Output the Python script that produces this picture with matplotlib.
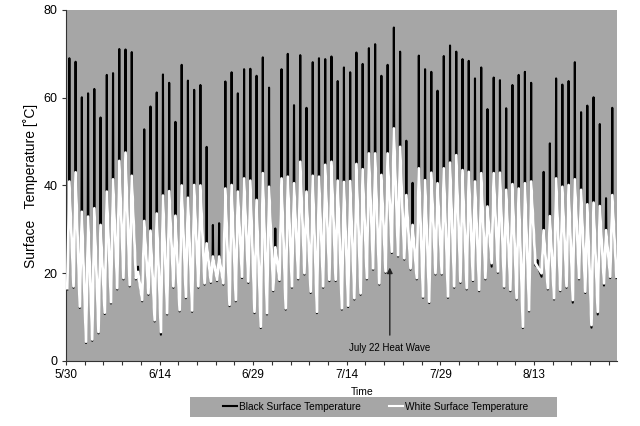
import numpy as np
import matplotlib
matplotlib.use("Agg")
import matplotlib.pyplot as plt
from matplotlib.lines import Line2D
from matplotlib.patches import Rectangle

plt.rcParams['font.family'] = ['Liberation Sans', 'DejaVu Sans']

# Daily values (day 0 = 5/30)
black_max = [69, 68.2, 60.1, 61, 62, 55.5, 65.2, 65.6, 71.1, 71, 70.4, 21.5, 52.8, 58, 61.2, 65.3, 63.4, 54.5, 67.5, 63.9, 61.8, 62.9, 48.8,
             31, 31.4, 63.7, 65.8, 61, 66.5, 66.6, 65, 69.2, 62.3, 30.2, 66.5, 70, 58.3, 69.7, 57.7, 68.1, 69, 68.8, 69.4, 63.8, 66.9, 65.8,
             70.3, 67.7, 71.3, 72.2, 65, 67.5, 76, 70.5, 50.2, 40.6, 69.6, 66.5, 65.9, 61.6, 69.5, 71.9, 70.5, 68.8, 68.4, 64.4, 66.9, 57.4,
             64.6, 64, 57.6, 62.9, 65.2, 65.9, 63.4, 23, 43.1, 49.6, 64.4, 63, 63.8, 68.1, 56.7, 58.2, 60.1, 54, 37.1, 57.7]
white_max = [40.9, 43, 34, 32.9, 34.8, 31, 38.6, 41.4, 45.6, 47.5, 42.2, 20.3, 31.9, 29.7, 33.6, 37.7, 38.7, 33.1, 40, 37.2, 40.1, 40, 26.8,
             23.8, 23.8, 39.3, 40.1, 38.6, 41.6, 41.1, 36.7, 42.8, 39.7, 25.9, 41.6, 42, 40.5, 45.4, 38.6, 42.2, 42, 44.7, 45.4, 41.1, 40.8, 41,
             44.9, 43.7, 47.3, 47.3, 42.4, 47.3, 53, 48.8, 37.8, 31, 43.9, 41.2, 42.9, 40.5, 43.9, 45.2, 46.9, 43.5, 43.1, 40.9, 42.8, 35.2,
             42.8, 42.9, 39, 40.3, 39.3, 40.5, 40.9, 21.5, 29.8, 33, 41.6, 39.7, 40.1, 41.4, 39, 35.7, 36.1, 35.3, 29.8, 37.8]
white_min = [16.6, 17, 12.4, 4.4, 4.9, 6.6, 11, 13.4, 16.6, 18.9, 17.3, 18.9, 13.9, 15.4, 9.3, 6.6, 10.9, 17, 11.6, 14.6, 11.5, 17, 17.7,
             18.1, 18.5, 17.7, 12.8, 13.9, 19.2, 18.1, 11.2, 7.8, 10.9, 16.2, 18.5, 12, 17, 18.9, 20, 15.8, 11.2, 17, 18.5, 18.5, 12, 12.6,
             14.3, 15.4, 18.9, 21.1, 17.7, 20.4, 24.9, 24.1, 23.4, 21.1, 18.9, 14.7, 13.5, 20, 20, 14.7, 17, 18.1, 16.6, 18.5, 16.2, 18.9,
             22.3, 20.4, 17, 16.2, 14.3, 7.8, 11.6, 22.3, 20, 16.6, 14.3, 16.2, 17, 13.9, 18.9, 15.8, 8.2, 11.2, 17.7, 19.2, 19.2]
black_min = [16.3, 16.7, 12.1, 4.1, 4.6, 6.3, 10.7, 13.1, 16.3, 18.6, 17.0, 18.6, 13.6, 15.1, 9.0, 6.0, 10.6, 16.7, 11.3, 14.3, 11.2, 16.7, 17.4,
             17.8, 18.2, 17.4, 12.5, 13.6, 18.9, 17.8, 10.9, 7.5, 10.6, 15.9, 18.2, 11.7, 16.7, 18.6, 19.7, 15.5, 10.9, 16.7, 18.2, 18.2, 11.7, 12.3,
             14.0, 15.1, 18.6, 20.8, 17.4, 20.1, 24.6, 23.8, 23.1, 20.8, 18.6, 14.4, 13.2, 19.7, 19.7, 14.4, 16.7, 17.8, 16.3, 18.2, 15.9, 18.6,
             21.5, 20.1, 16.7, 15.9, 14.0, 7.5, 11.3, 21.8, 19.2, 16.3, 14.0, 15.9, 16.7, 13.3, 18.6, 15.5, 7.6, 10.6, 17.2, 18.9, 18.9]

tick_labels = ['5/30', '6/14', '6/29', '7/14', '7/29', '8/13']
tick_days = [0, 15, 30, 45, 60, 75]

n = len(black_max)
day = np.arange(n)

# White: night minimum -> midday peak -> next minimum
t_w = np.empty(2 * n + 1)
t_w[0::2] = np.arange(n + 1) + 0.22
t_w[1::2] = day + 0.55
wh = np.empty(2 * n + 1); wh[0::2] = white_min; wh[1::2] = white_max

# Black: follows white up to the white peak level, then a narrow midday spike
t_b = np.empty(4 * n + 1)
t_b[0::4] = np.arange(n + 1) + 0.22
t_b[1::4] = day + 0.50
t_b[2::4] = day + 0.55
t_b[3::4] = day + 0.60
bl = np.empty(4 * n + 1)
bl[0::4] = black_min
bl[1::4] = white_max
bl[2::4] = black_max
bl[3::4] = white_max

bg = '#a6a6a6'
fig = plt.figure(figsize=(6.4, 4.26), dpi=100)
ax = fig.add_axes([0.103, 0.1526, 0.861, 0.824])
ax.set_facecolor(bg)

ax.plot(t_b, bl, color='black', lw=1.5, solid_joinstyle='round', zorder=2)
ax.plot(t_w, wh, color='white', lw=2.0, solid_joinstyle='round', zorder=3)

ax.set_xlim(0, 88.3)
ax.set_ylim(0, 80)
ax.set_yticks([0, 20, 40, 60, 80])
ax.set_xticks(tick_days)
ax.set_xticklabels(tick_labels)
ax.set_xticks(np.arange(0, 88.3, 3), minor=True)
ax.tick_params(axis='both', which='both', direction='out', length=3, width=0.8, color='#333333', pad=3)
ax.tick_params(axis='x', labelsize=8.5)
ax.tick_params(axis='y', labelsize=9)
for s in ['top', 'right']:
    ax.spines[s].set_visible(False)
for s in ['left', 'bottom']:
    ax.spines[s].set_color('#333333')
    ax.spines[s].set_linewidth(0.8)

ax.set_ylabel('Surface   Temperature [˚C]', fontsize=10)
ax.yaxis.set_label_coords(-0.05, 0.5)
ax.set_xlabel('Time', fontsize=7.5)
ax.xaxis.set_label_coords(0.537, -0.075)

ax.annotate('', xy=(51.9, 21.3), xytext=(51.9, 5.9),
            arrowprops=dict(arrowstyle='-|>', color='#222222', lw=1, mutation_scale=8, shrinkA=0, shrinkB=0))
ax.text(51.9, 3.0, 'July 22 Heat Wave', ha='center', va='center', fontsize=7)

# legend box
W, H = 640.0, 426.0
fig.patches.append(Rectangle((190 / W, 1 - 417 / H), 367 / W, 20 / H, transform=fig.transFigure,
                             facecolor=bg, edgecolor='none', zorder=0))
handles = [Line2D([], [], color='black', lw=1.5), Line2D([], [], color='white', lw=1.5)]
leg = fig.legend(handles, ['Black Surface Temperature', 'White Surface Temperature'],
                 loc='center', bbox_to_anchor=(375.5 / W, 1 - 407 / H), ncol=2,
                 frameon=False, fontsize=7.3, handlelength=1.4, handletextpad=0.15, columnspacing=2.8)

fig.savefig('out.png', dpi=100)
